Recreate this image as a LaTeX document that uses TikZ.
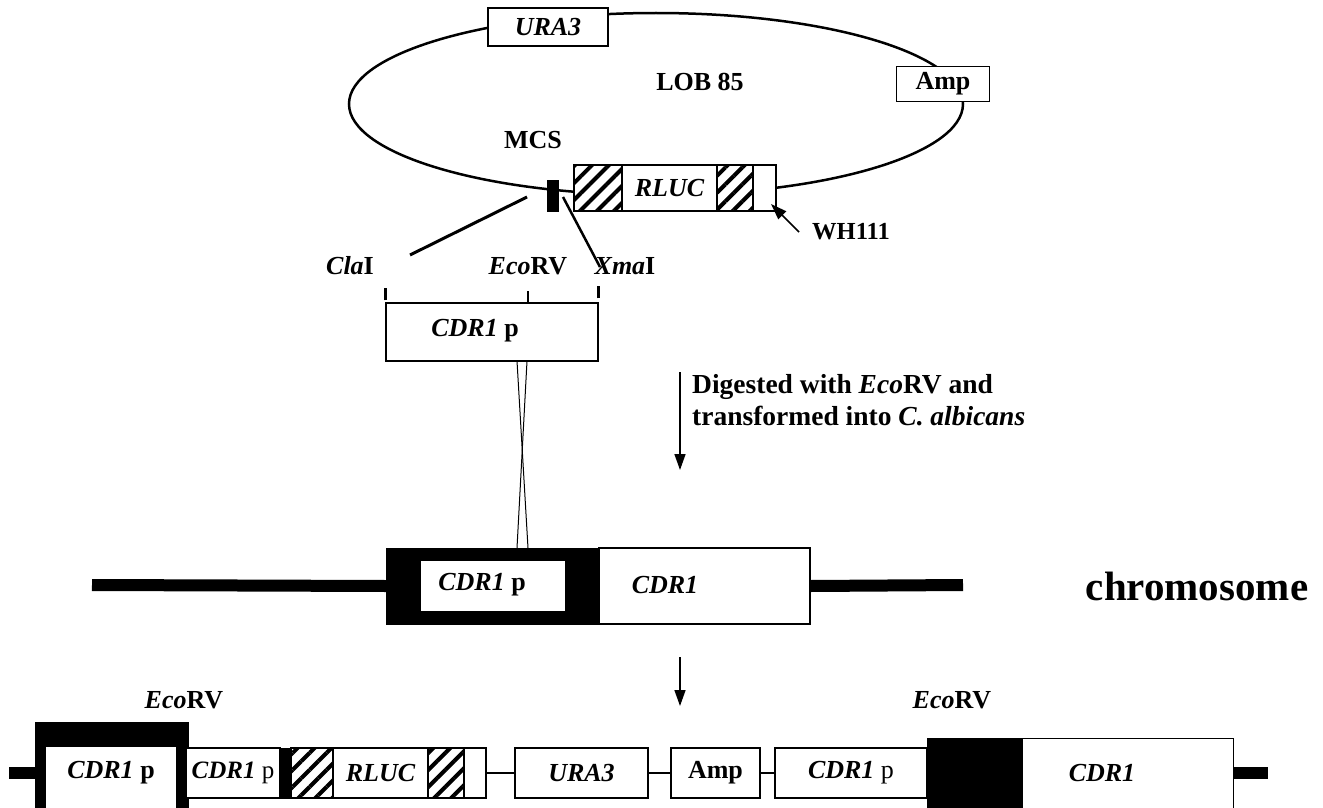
\documentclass[tikz,border=0pt]{standalone}
\usepackage{fontspec}
\setmainfont{Liberation Serif}
\usetikzlibrary{arrows.meta,patterns.meta}
\begin{document}
\begin{tikzpicture}[x=1pt,y=-1pt,
  lbl/.style={font=\fontsize{26}{31}\selectfont\bfseries, inner sep=0pt},
  sml/.style={font=\fontsize{25}{30}\selectfont\bfseries, inner sep=0pt},
  box/.style={draw, line width=1.3pt, fill=white, inner sep=0pt},
  blk/.style={draw, fill=black, inner sep=0pt},
  hatch/.style={draw, line width=1.3pt, preaction={fill=white}, pattern={Lines[angle=45,distance=12pt,line width=4pt]}, inner sep=0pt},
  thin/.style={line width=1.8pt},
  arr/.style={line width=1.5pt, -{Triangle[length=16pt,width=11pt]}}
]
\useasboundingbox (0,0) rectangle (1323,808);
\fill[white] (0,0) rectangle (1323,808);

% ---------- plasmid ----------
\draw[line width=2.5pt] (656,104) ellipse [x radius=307pt, y radius=91pt];
\node[box, minimum width=120pt, minimum height=38pt, font=\fontsize{26}{31}\selectfont\bfseries\itshape] (ura) at (548,27) {URA3};
\node[box, minimum width=93pt, minimum height=35pt, font=\fontsize{26}{31}\selectfont\bfseries] (amp) at (943,84) {Amp};
\node[lbl] (lob) at (700,82) {LOB 85};
\node[lbl] (mcs) at (533,140) {MCS};
\node[blk, minimum width=11pt, minimum height=31pt] (mcsbar) at (552.5,195.5) {};
\node[hatch, minimum width=48pt, minimum height=46pt] (h1) at (598,188) {};
\node[box, minimum width=95pt, minimum height=46pt, font=\fontsize{26}{31}\selectfont\bfseries\itshape] (rluc) at (669.5,188) {RLUC};
\node[hatch, minimum width=36pt, minimum height=46pt] (h2) at (735,188) {};
\node[box, minimum width=23pt, minimum height=46pt] (wend) at (764.5,188) {};
\node[inner sep=0pt, font=\fontsize{24.5}{29}\selectfont\bfseries] (wh) at (851,232) {WH111};
\coordinate (whtail) at (799,232);
\coordinate (whtip) at (771,204);
\draw[arr] (whtail) -- (whtip);

% ---------- restriction sites ----------
\node[lbl] (cla) at (350,266) {\textit{Cla}I};
\node[lbl] (eco1) at (528,266) {\textit{Eco}RV};
\node[lbl] (xma) at (625,266) {\textit{Xma}I};
\coordinate (claA) at (527,197);
\coordinate (claB) at (410,255);
\coordinate (xmaA) at (563,197);
\coordinate (xmaB) at (600,267);
\draw[line width=3pt] (claA) -- (claB);
\draw[line width=2.5pt] (xmaA) -- (xmaB);

\node[box, minimum width=212pt, minimum height=58pt] (cdrp) at (492,332) {};
\node[lbl] (cdrptxt) at (475,331) {\textit{CDR1} p};
\draw[line width=3pt] (cdrp.north west) ++(0,-2) -- ++(0,-12);
\draw[line width=2.2pt] (528,303) -- (528,291);
\draw[line width=3pt] (cdrp.north east) ++(0,-4) -- ++(0,-12);

% crossing lines
\coordinate (xa1) at (517,361);
\coordinate (xa2) at (527,361);
\coordinate (xb1) at (528,548);
\coordinate (xb2) at (517,548);
\draw[line width=1pt] (xa1) -- (xb1);
\draw[line width=1pt] (xa2) -- (xb2);

% digestion arrow
\coordinate (d1) at (680,372);
\coordinate (d2) at (680,470);
\draw[arr] (d1) -- (d2);
\node[inner sep=0pt, font=\fontsize{27.5}{32}\selectfont\bfseries, align=left, anchor=north west] (dig) at (692,374) {Digested with \textit{Eco}RV and\\transformed into \textit{C. albicans}};

% ---------- chromosome ----------
\coordinate (chl) at (92,585);
\coordinate (chr) at (963,585);
\node[blk, minimum width=213pt, minimum height=76pt] (cblk) at (492.5,586) {};
\node[box, minimum width=211pt, minimum height=76pt] (ccdr) at (704.5,586) {};
\node[draw=white, fill=white, inner sep=0pt, minimum width=143pt, minimum height=49pt] (cin) at (492.5,585.5) {};
\draw[line width=12pt] (chl) -- (cblk.west);
\draw[line width=12pt] (ccdr.east) -- (chr);
\node[lbl] (cintxt) at (482,585) {\textit{CDR1} p};
\node[lbl, font=\fontsize{26}{31}\selectfont\bfseries\itshape] (ccdrtxt) at (665,585) {CDR1};
\node[font=\fontsize{41}{48}\selectfont\bfseries, inner sep=0pt] (chrom) at (1197,586) {chromosome};

\coordinate (a1) at (680,657);
\coordinate (a2) at (680,706);
\draw[arr] (a1) -- (a2);

% ---------- integrated construct ----------
\coordinate (stubL) at (9,773);
\coordinate (stubR) at (1268,773);
\node[blk, minimum width=153pt, minimum height=108pt, anchor=north west] (bl) at (35,722) {};
\node[fill=white, inner sep=0pt, minimum width=130pt, minimum height=80pt, anchor=north west] (blin) at (46,747) {};
\node[lbl] (bltxt) at (111,773) {\textit{CDR1} p};
\node[lbl] (eco2) at (184,700) {\textit{Eco}RV};
\draw[line width=12pt] (stubL) -- (bl.west |- stubL);

\node[box, minimum width=94pt, minimum height=50pt] (c2) at (233,773) {};
\node[sml] at (c2) {\textit{CDR1}\mdseries\ p};
\node[blk, minimum width=11pt, minimum height=50pt] (bar2) at (285.5,773) {};
\node[hatch, minimum width=42pt, minimum height=50pt] (h3) at (312,773) {};
\node[box, minimum width=95pt, minimum height=50pt, font=\fontsize{26}{31}\selectfont\bfseries\itshape] (rluc2) at (380.5,773) {RLUC};
\node[hatch, minimum width=36pt, minimum height=50pt] (h4) at (446,773) {};
\node[box, minimum width=22pt, minimum height=50pt] (w2) at (475,773) {};
\node[box, minimum width=133pt, minimum height=50pt, font=\fontsize{26}{31}\selectfont\bfseries\itshape] (ura2) at (581.5,773) {URA3};
\node[box, minimum width=89pt, minimum height=50pt, font=\fontsize{26}{31}\selectfont\bfseries] (amp2) at (715.5,773) {Amp};
\node[box, minimum width=152pt, minimum height=50pt] (c3) at (851,773) {};
\node[lbl] at (c3) {\textit{CDR1}\mdseries\ p};
\node[blk, minimum width=95pt, minimum height=92pt, anchor=north west] (bk3) at (927,738) {};
\node[box, minimum width=211pt, minimum height=92pt, anchor=north west] (cdr3) at (1022,738) {};
\node[lbl, font=\fontsize{26}{31}\selectfont\bfseries\itshape] (cdr3txt) at (1102,773) {CDR1};
\node[lbl] (eco3) at (952,700) {\textit{Eco}RV};
\draw[line width=12pt] (cdr3.east |- stubR) -- (stubR);

\draw[thin] (w2.east) -- (ura2.west);
\draw[thin] (ura2.east) -- (amp2.west);
\draw[thin] (amp2.east) -- (c3.west);
\end{tikzpicture}
\end{document}
